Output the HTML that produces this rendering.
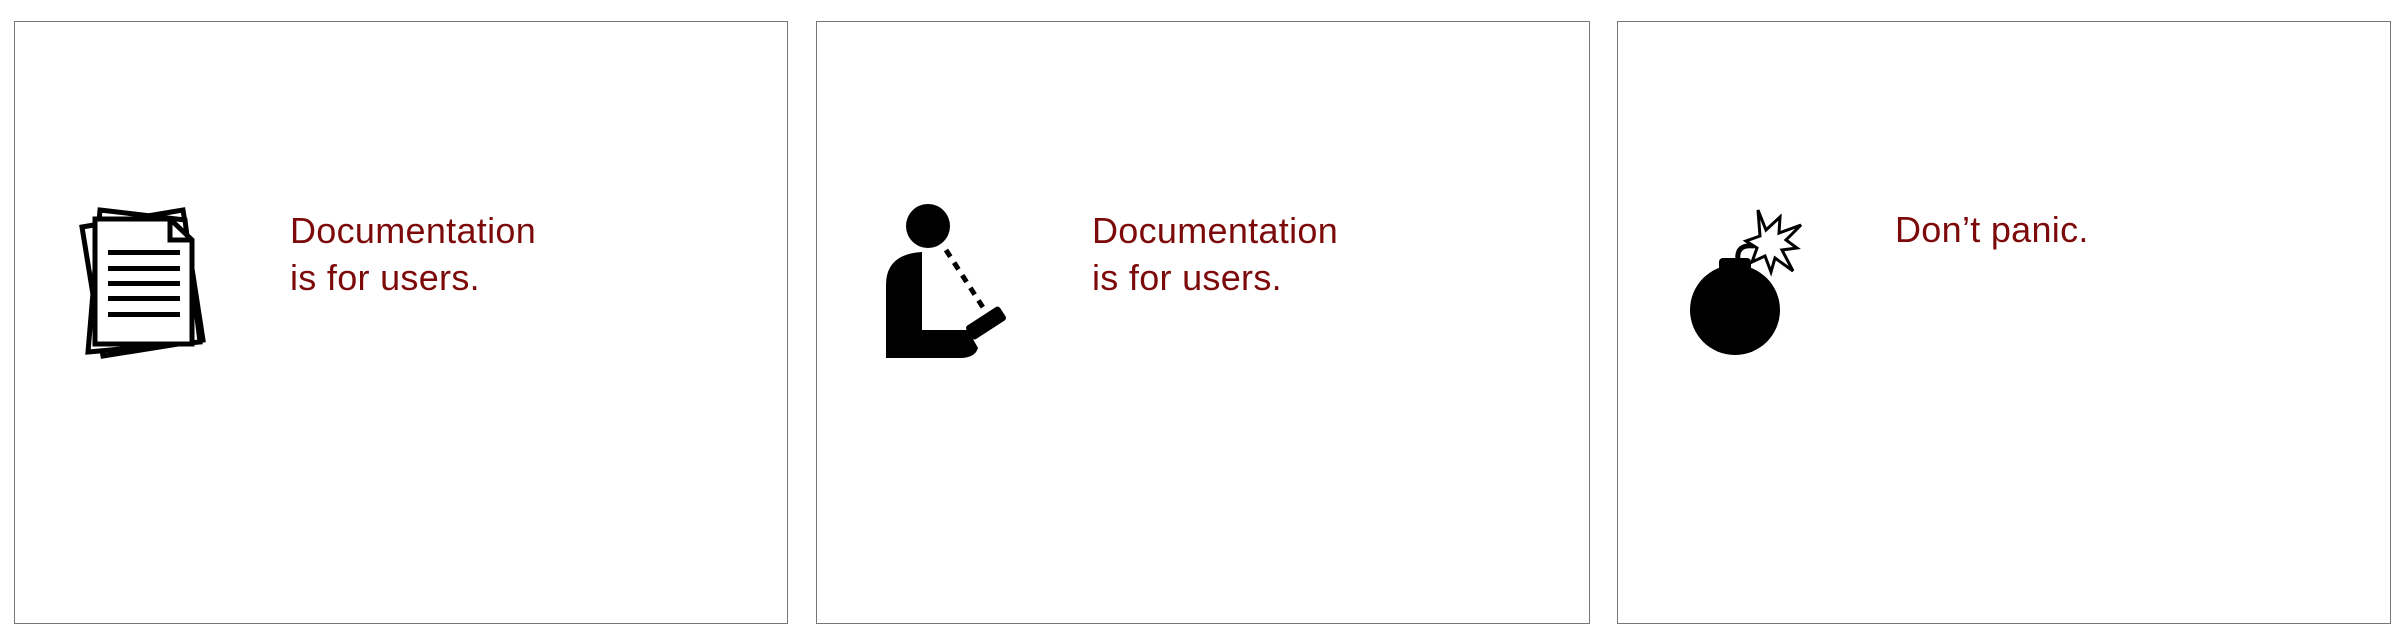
<!DOCTYPE html>
<html><head><meta charset="utf-8"><style>
html,body{margin:0;padding:0;background:#fff;width:2408px;height:644px;overflow:hidden}
.p{position:absolute;top:21px;width:774px;height:603px;border:1.5px solid #777;box-sizing:border-box;background:#fff}
.t{position:absolute;font-family:"Liberation Sans",sans-serif;font-size:36px;color:#7d0a0a;line-height:47px;white-space:nowrap;letter-spacing:0.3px}
svg{position:absolute;left:0;top:0}
</style></head><body>
<div class="p" style="left:14px"></div>
<div class="p" style="left:816px"></div>
<div class="p" style="left:1617px"></div>
<div class="t" style="left:290px;top:207px">Documentation<br>is for users.</div>
<div class="t" style="left:1092px;top:207px">Documentation<br>is for users.</div>
<div class="t" style="left:1895px;top:206px">Don’t panic.</div>
<svg width="2408" height="644" viewBox="0 0 2408 644">
 <g stroke="#000" stroke-width="5" fill="#fff" stroke-linejoin="miter">
  <polygon points="82,227 183,210 203,340 103,356"/>
  <polygon points="100,210 185,220 200,342 88,352" />
  <polygon points="95,219 170,219 192,240 192,344 95,344"/>
 </g>
 <polyline points="170,219 170,240 192,240" fill="none" stroke="#000" stroke-width="5"/>
 <g fill="#000">
  <rect x="108" y="250" width="72" height="5"/>
  <rect x="108" y="266" width="72" height="5"/>
  <rect x="108" y="281" width="72" height="5"/>
  <rect x="108" y="296" width="72" height="5"/>
  <rect x="108" y="312" width="72" height="5"/>
 </g>
 <g fill="#000">
  <circle cx="928" cy="226" r="22"/>
  <path d="M922,252 L922,330 L968,330 L978,348 Q975,358 960,358 L886,358 L886,285 Q886,254 922,252 Z"/>
  <rect x="966" y="315" width="40" height="16" rx="3" transform="rotate(-33 986 323)"/>
 </g>
 <line x1="946" y1="250" x2="984" y2="309" stroke="#000" stroke-width="5" stroke-dasharray="8,7"/>
 <g fill="#000">
  <circle cx="1735" cy="310" r="45"/>
  <rect x="1719" y="258" width="32" height="22" rx="4"/>
 </g>
 <path d="M1738,260 Q1736,244 1754,246" fill="none" stroke="#000" stroke-width="5"/>
 <polygon points="1758,210 1766,230 1780,217 1779,233 1801,225 1786,240 1797,248 1782,250 1793,271 1775,258 1771,272 1765,256 1752,262 1757,248 1746,241 1760,236" fill="#fff" stroke="#000" stroke-width="3" stroke-linejoin="miter"/>
</svg>
</body></html>
